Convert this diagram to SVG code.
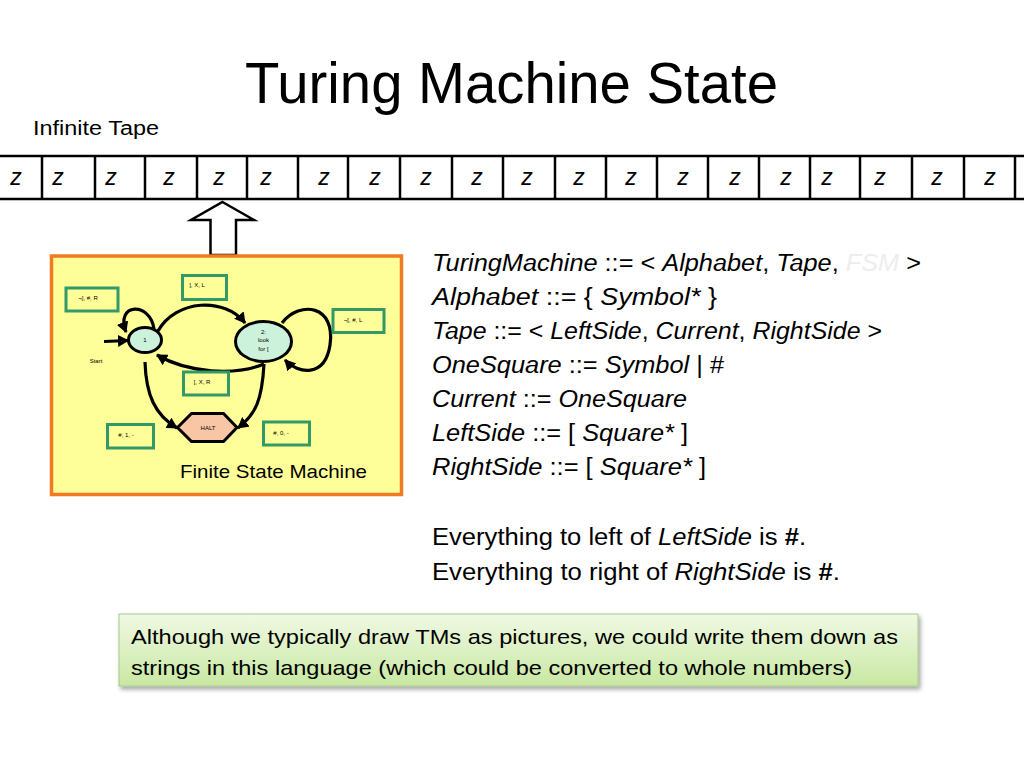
<svg xmlns="http://www.w3.org/2000/svg" width="1024" height="768" viewBox="0 0 1024 768">
<style>
.t{font-family:"Liberation Sans","Open Sans",sans-serif;fill:#000}
.i{font-style:italic}
.z{font-family:"Liberation Sans",sans-serif;font-style:italic;font-size:23px;text-anchor:middle}
.cell{stroke:#000;stroke-width:2.5}
.lbl{fill:#FFFF99;stroke:#339966;stroke-width:3}
.sm{font-family:"Liberation Sans",sans-serif;font-size:6px;text-anchor:middle;fill:#000}
.edge{fill:none;stroke:#000;stroke-width:3.2;marker-end:url(#ah)}
.state{fill:#CCF2DC;stroke:#000;stroke-width:3}
</style>
<defs>
<marker id="ah" markerUnits="userSpaceOnUse" markerWidth="12" markerHeight="12" refX="10" refY="6" orient="auto">
<path d="M0,0 L11,6 L0,12 Z" fill="#000"/>
</marker>
<linearGradient id="gg" x1="0" y1="0" x2="0" y2="1">
<stop offset="0" stop-color="#F0F9E4"/>
<stop offset="1" stop-color="#C8E8A2"/>
</linearGradient>
<filter id="sh" x="-5%" y="-20%" width="110%" height="150%">
<feDropShadow dx="2" dy="3" stdDeviation="2" flood-color="#000" flood-opacity="0.35"/>
</filter>
</defs>
<rect width="1024" height="768" fill="#fff"/>

<text class="t" x="245" y="103" font-size="58" textLength="533" lengthAdjust="spacingAndGlyphs">Turing Machine State</text>
<text class="t" x="33" y="135" font-size="20" textLength="126" lengthAdjust="spacingAndGlyphs">Infinite Tape</text>

<g id="tape">
<line class="cell" x1="0" y1="156" x2="1024" y2="156" stroke-width="3"/>
<line class="cell" x1="0" y1="199" x2="1024" y2="199" stroke-width="3"/>
<g class="cell">
<line x1="42" y1="156" x2="42" y2="199"/><line x1="95" y1="156" x2="95" y2="199"/>
<line x1="145" y1="156" x2="145" y2="199"/><line x1="197" y1="156" x2="197" y2="199"/>
<line x1="247" y1="156" x2="247" y2="199"/><line x1="298" y1="156" x2="298" y2="199"/>
<line x1="348" y1="156" x2="348" y2="199"/><line x1="400" y1="156" x2="400" y2="199"/>
<line x1="452" y1="156" x2="452" y2="199"/><line x1="503" y1="156" x2="503" y2="199"/>
<line x1="555" y1="156" x2="555" y2="199"/><line x1="606" y1="156" x2="606" y2="199"/>
<line x1="657" y1="156" x2="657" y2="199"/><line x1="708" y1="156" x2="708" y2="199"/>
<line x1="759" y1="156" x2="759" y2="199"/><line x1="810" y1="156" x2="810" y2="199"/>
<line x1="860" y1="156" x2="860" y2="199"/><line x1="912" y1="156" x2="912" y2="199"/>
<line x1="964" y1="156" x2="964" y2="199"/><line x1="1015" y1="156" x2="1015" y2="199"/>
</g>
<g>
<text class="z" x="16" y="185">z</text><text class="z" x="58" y="185">z</text>
<text class="z" x="111" y="185">z</text><text class="z" x="169" y="185">z</text>
<text class="z" x="219" y="185">z</text><text class="z" x="266" y="185">z</text>
<text class="z" x="324" y="185">z</text><text class="z" x="375" y="185">z</text>
<text class="z" x="426" y="185">z</text><text class="z" x="477" y="185">z</text>
<text class="z" x="527" y="185">z</text><text class="z" x="579" y="185">z</text>
<text class="z" x="631" y="185">z</text><text class="z" x="683" y="185">z</text>
<text class="z" x="735" y="185">z</text><text class="z" x="786" y="185">z</text>
<text class="z" x="827" y="185">z</text><text class="z" x="880" y="185">z</text>
<text class="z" x="937" y="185">z</text><text class="z" x="990" y="185">z</text>
</g>
</g>

<g id="head-arrow">
<polygon points="222.5,202 254,220 236,220 236,255 210.5,255 210.5,220 191,220" fill="#fff" stroke="#000" stroke-width="2.5" stroke-linejoin="miter"/>
</g>

<g id="fsm">
<rect x="51.5" y="256" width="350" height="238.5" fill="#FFFF99" stroke="#F07A22" stroke-width="3.5"/>
<text class="t" x="180" y="478" font-size="19" textLength="187" lengthAdjust="spacingAndGlyphs">Finite State Machine</text>
</g>

<g id="connectors">
<path class="edge" d="M154,329 C150,301 115,303 126,332"/>
<path class="edge" d="M158,331 C176,299 225,297 245,323"/>
<path class="edge" d="M264,364 C235,376 188,373 157,355"/>
<path class="edge" d="M282,323 C300,300 336,305 330,345 C325,378 298,374 285,360"/>
<path class="edge" d="M145,362 C146,395 155,415 177,428"/>
<path class="edge" d="M264,364 C262,400 256,414 238,428"/>
<path class="edge" d="M104,341.5 L128,340.5"/>
</g>

<g id="state1">
<ellipse class="state" cx="145" cy="340" rx="16.5" ry="12.5"/>
<text class="sm" x="145" y="342">1</text>
</g>
<g id="state2">
<ellipse class="state" cx="263.5" cy="341.5" rx="28" ry="20"/>
<text class="sm" x="263.5" y="333.5">2:</text>
<text class="sm" x="263.5" y="342">look</text>
<text class="sm" x="263.5" y="350.5">for [</text>
</g>
<g id="halt">
<polygon points="177.5,427.5 191.5,413.5 223.5,413.5 237,427.5 223.5,441.5 191.5,441.5" fill="#F8C6A4" stroke="#000" stroke-width="3"/>
<text class="sm" x="208" y="429.5">HALT</text>
</g>
<g id="start">
<text class="sm" x="96" y="363">Start</text>
</g>
<g id="label-loop1">
<rect class="lbl" x="66" y="288" width="52" height="23"/>
<text class="sm" x="88" y="299.5">¬], #, R</text>
</g>
<g id="label-12">
<rect class="lbl" x="182.5" y="275.5" width="44" height="24"/>
<text class="sm" x="197" y="287">], X, L</text>
</g>
<g id="label-loop2">
<rect class="lbl" x="333" y="309.5" width="51" height="23"/>
<text class="sm" x="353" y="321.5">¬[, #, L</text>
</g>
<g id="label-21">
<rect class="lbl" x="183.5" y="372" width="45" height="23"/>
<text class="sm" x="202" y="383.5">[, X, R</text>
</g>
<g id="label-1h">
<rect class="lbl" x="107.5" y="424.5" width="46" height="23.5"/>
<text class="sm" x="126" y="437">#, 1, -</text>
</g>
<g id="label-2h">
<rect class="lbl" x="263.5" y="422" width="46" height="23"/>
<text class="sm" x="281" y="434.5">#, 0, -</text>
</g>

<g id="grammar" class="t" font-size="23">
<text x="432" y="271" textLength="489" lengthAdjust="spacingAndGlyphs"><tspan class="i">TuringMachine</tspan> ::= &lt; <tspan class="i">Alphabet</tspan>, <tspan class="i">Tape</tspan>, <tspan class="i" fill="#EDEDED">FSM</tspan> &gt;</text>
<text x="432" y="305" textLength="285" lengthAdjust="spacingAndGlyphs"><tspan class="i">Alphabet</tspan> ::= { <tspan class="i">Symbol*</tspan> }</text>
<text x="432" y="339" textLength="450" lengthAdjust="spacingAndGlyphs"><tspan class="i">Tape</tspan> ::= &lt; <tspan class="i">LeftSide</tspan>, <tspan class="i">Current</tspan>, <tspan class="i">RightSide</tspan> &gt;</text>
<text x="432" y="373" textLength="292" lengthAdjust="spacingAndGlyphs"><tspan class="i">OneSquare</tspan> ::= <tspan class="i">Symbol</tspan> | #</text>
<text x="432" y="407" textLength="255" lengthAdjust="spacingAndGlyphs"><tspan class="i">Current</tspan> ::= <tspan class="i">OneSquare</tspan></text>
<text x="432" y="441" textLength="256" lengthAdjust="spacingAndGlyphs"><tspan class="i">LeftSide</tspan> ::= [ <tspan class="i">Square*</tspan> ]</text>
<text x="432" y="475" textLength="274" lengthAdjust="spacingAndGlyphs"><tspan class="i">RightSide</tspan> ::= [ <tspan class="i">Square*</tspan> ]</text>
<text x="432" y="545" textLength="374" lengthAdjust="spacingAndGlyphs">Everything to left of <tspan class="i">LeftSide</tspan> is <tspan font-weight="bold">#</tspan>.</text>
<text x="432" y="580" textLength="408" lengthAdjust="spacingAndGlyphs">Everything to right of <tspan class="i">RightSide</tspan> is <tspan font-weight="bold">#</tspan>.</text>
</g>

<g id="note">
<rect x="119" y="614" width="799" height="72" fill="url(#gg)" stroke="#A8C88A" stroke-width="1" filter="url(#sh)"/>
<text class="t" x="131" y="644" font-size="21" textLength="767" lengthAdjust="spacingAndGlyphs">Although we typically draw TMs as pictures, we could write them down as</text>
<text class="t" x="131" y="675" font-size="21" textLength="721" lengthAdjust="spacingAndGlyphs">strings in this language (which could be converted to whole numbers)</text>
</g>
</svg>
